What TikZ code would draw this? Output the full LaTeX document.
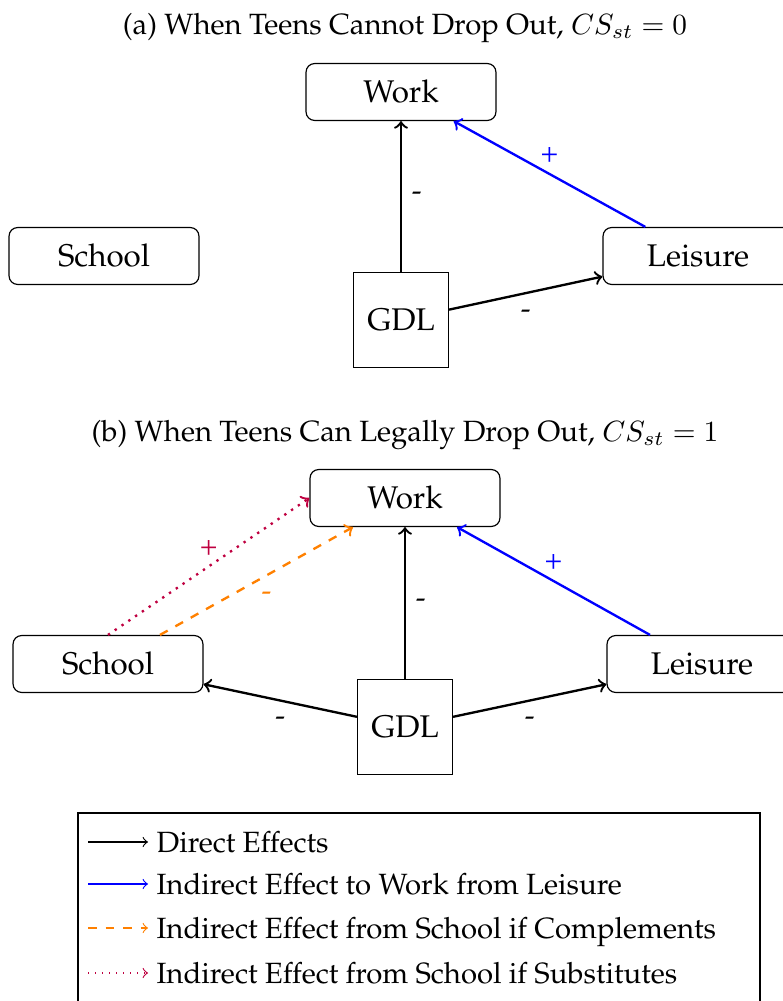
\documentclass[tikz,border=0pt]{standalone}
\usepackage[T1]{fontenc}
\renewcommand{\rmdefault}{ppl}
\usetikzlibrary{positioning}

\begin{document}
\begin{tikzpicture}


        % Setup the styles for the boxes and the arrows
        \tikzset{box style/.style={draw,
                                   rounded corners=3pt,
                                   font=\fontsize{10.7}{13}\selectfont,
                                   minimum width=2.28cm,
                                   minimum height=0.684cm},
                 gdl style/.style={draw,
                                   font=\fontsize{10.7}{13}\selectfont,
                                   minimum size=1.14cm},
                 direct/.style={->, thick},
                 via leisure/.style={->, thick, blue},
                 complements/.style={->, thick, dashed, orange},
                 substitutes/.style={->, thick, dotted, purple},
                 legend text/.style={anchor=base west, inner sep=0pt}}

\useasboundingbox (0,0) rectangle (9.396,12.012);

% Panel (a)
\node at (4.86,11.676) (ta) {(a) When Teens Cannot Drop Out, $CS_{st}=0$};

\node[box style] at (4.812,10.908) (wa) {Work};
\node[box style] at (1.248,8.94) (sa) {School};
\node[box style] at (8.376,8.94) (la) {Leisure};
\node[gdl style] at (4.812,8.172) (ga) {GDL};

	 \draw
	  (ga) edge[direct] node[right] {-} (wa)
		(ga) edge[direct] node[below=2pt] {-} (la)
		(la) edge[via leisure] node[above] {+} (wa);

% Panel (b)
\node at (4.86,6.792) (tb) {(b) When Teens Can Legally Drop Out, $CS_{st}=1$};

\node[box style] at (4.86,6.036) (wb) {Work};
\node[box style] at (1.296,4.044) (sb) {School};
\node[box style] at (8.424,4.044) (lb) {Leisure};
\node[gdl style] at (4.86,3.288) (gb) {GDL};

	 \draw
	  (gb) edge[direct] node[right] {-} (wb)
		(gb) edge[direct] node[below=2pt] {-} (sb)
		(gb) edge[direct] node[below=2pt] {-} (lb)
		(lb) edge[via leisure] node[above] {+} (wb)
		(sb) edge[complements] node[below right=0pt and -2pt] {-} (wb)
		(sb.north) edge[substitutes] node[above] {+} (wb.west);

% Legend
\node[draw, minimum width=8.184cm, minimum height=2.364cm] at (5.028,1.074) (key) {};

\coordinate (k1a) at (1.056,1.908); \coordinate (k1b) at (1.776,1.908);
\coordinate (k2a) at (1.056,1.404); \coordinate (k2b) at (1.776,1.404);
\coordinate (k3a) at (1.056,0.876); \coordinate (k3b) at (1.776,0.876);
\coordinate (k4a) at (1.056,0.336); \coordinate (k4b) at (1.776,0.336);

\draw[->] (k1a) -- (k1b);
\draw[->, blue] (k2a) -- (k2b);
\draw[->, dashed, orange] (k3a) -- (k3b);
\draw[->, dotted, purple] (k4a) -- (k4b);

\node[legend text] at (1.872,1.776) (k1) {Direct Effects};
\node[legend text] at (1.872,1.272) (k2) {Indirect Effect to Work from Leisure};
\node[legend text] at (1.872,0.744) (k3) {Indirect Effect from School if Complements};
\node[legend text] at (1.872,0.204) (k4) {Indirect Effect from School if Substitutes};
\end{tikzpicture}
\end{document}
